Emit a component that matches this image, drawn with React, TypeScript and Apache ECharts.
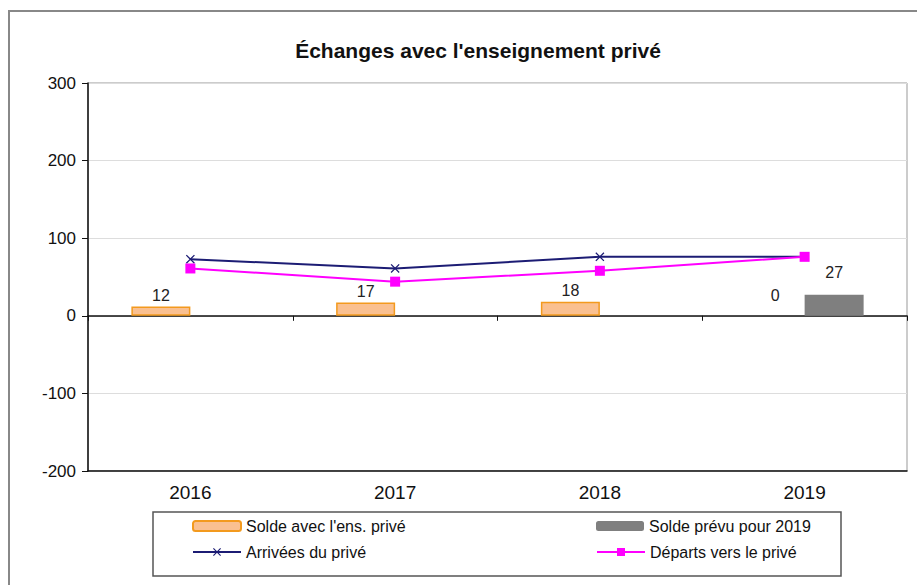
import React, { useEffect, useRef } from "react";
import * as echarts from "echarts";

const categories = ["2016", "2017", "2018", "2019"];
const soldeValues = [12, 17, 18, 0];
const soldePrevuValues: (number | null)[] = [null, null, null, 27];
const arriveesValues = [73, 61, 76, 76];
const departsValues = [61, 44, 58, 76];
const yTicks = { min: -200, max: 300, interval: 100 };

const FONT = "Liberation Sans, Arial, sans-serif";
const X_SYMBOL = "path://M0,1L1,0L5,4L9,0L10,1L6,5L10,9L9,10L5,6L1,10L0,9L4,5Z";

export default function App() {
  const ref = useRef<HTMLDivElement>(null);
  useEffect(() => {
    if (!ref.current) return;
    const chart = echarts.init(ref.current, undefined, { renderer: "svg" });
    const legendText = { fontFamily: FONT, fontSize: 16, color: "#111" };
    const legendBase = { itemWidth: 48, itemHeight: 10, itemGap: 3, padding: 0, textStyle: legendText };
    chart.setOption({
      animation: false,
      backgroundColor: "#fff",
      title: {
        text: "Échanges avec l'enseignement privé",
        left: 473,
        top: 35,
        textAlign: "center",
        textStyle: { fontFamily: FONT, fontSize: 21, fontWeight: "bold", color: "#111" },
      },
      graphic: [
        {
          type: "rect",
          shape: { x: 9, y: 11, width: 930, height: 600 },
          style: { fill: "none", stroke: "#888", lineWidth: 2 },
          silent: true,
        },
        {
          type: "rect",
          shape: { x: 153, y: 512, width: 688, height: 64 },
          style: { fill: "none", stroke: "#555", lineWidth: 1.5 },
          silent: true,
        },
      ],
      legend: [
        { ...legendBase, data: ["Solde avec l'ens. privé"], left: 192, top: 518 },
        { ...legendBase, data: ["Solde prévu pour 2019"], left: 596, top: 518 },
        { ...legendBase, data: ["Arrivées du privé"], left: 192, top: 544 },
        { ...legendBase, data: ["Départs vers le privé"], left: 596, top: 544 },
      ],
      grid: { left: 88, right: 10, top: 83, bottom: 114, show: true, borderColor: "#999", borderWidth: 1 },
      xAxis: [
        {
          type: "category",
          data: categories,
          position: "bottom",
          axisLine: { onZero: false, lineStyle: { color: "#111", width: 1.5 } },
          axisTick: { show: false },
          axisLabel: { fontFamily: FONT, fontSize: 19, color: "#111", margin: 12 },
        },
        {
          type: "category",
          data: categories,
          position: "bottom",
          axisLine: { show: true, onZero: true, lineStyle: { color: "#111", width: 1.5 } },
          axisTick: { show: true, length: 5, lineStyle: { color: "#111" } },
          axisLabel: { show: false },
        },
      ],
      yAxis: {
        type: "value",
        min: yTicks.min,
        max: yTicks.max,
        interval: yTicks.interval,
        axisLine: { show: true, lineStyle: { color: "#111", width: 1.5 } },
        axisTick: { show: true, length: 6, lineStyle: { color: "#111" } },
        axisLabel: { fontFamily: FONT, fontSize: 17, color: "#111", margin: 12 },
        splitLine: { lineStyle: { color: "#ddd", width: 1 } },
      },
      series: [
        {
          name: "Solde avec l'ens. privé",
          type: "bar",
          data: soldeValues.map((v) =>
            v === 0
              ? { value: v, itemStyle: { borderWidth: 0, color: "rgba(0,0,0,0)" }, label: { distance: 12 } }
              : v
          ),
          barWidth: 59,
          barGap: "0%",
          itemStyle: { color: "#fac090", borderColor: "#f39a1e", borderWidth: 1.5 },
          label: { show: true, position: "top", distance: 3, fontFamily: FONT, fontSize: 16, color: "#222" },
          z: 2,
        },
        {
          name: "Solde prévu pour 2019",
          type: "bar",
          data: soldePrevuValues,
          barWidth: 59,
          barGap: "0%",
          itemStyle: { color: "#7f7f7f" },
          label: { show: true, position: "top", distance: 14, fontFamily: FONT, fontSize: 16, color: "#222" },
          z: 2,
        },
        {
          name: "Arrivées du privé",
          type: "line",
          data: arriveesValues,
          symbol: X_SYMBOL,
          symbolSize: 9,
          lineStyle: { color: "#1c1c74", width: 2 },
          itemStyle: { color: "#1c1c74" },
          z: 3,
        },
        {
          name: "Départs vers le privé",
          type: "line",
          data: departsValues,
          symbol: "rect",
          symbolSize: 10,
          lineStyle: { color: "#ff00ff", width: 2 },
          itemStyle: { color: "#ff00ff" },
          z: 4,
        },
      ],
    });
    return () => chart.dispose();
  }, []);
  return <div ref={ref} style={{ width: 917, height: 585, position: "absolute", left: 0, top: 0 }} />;
}
